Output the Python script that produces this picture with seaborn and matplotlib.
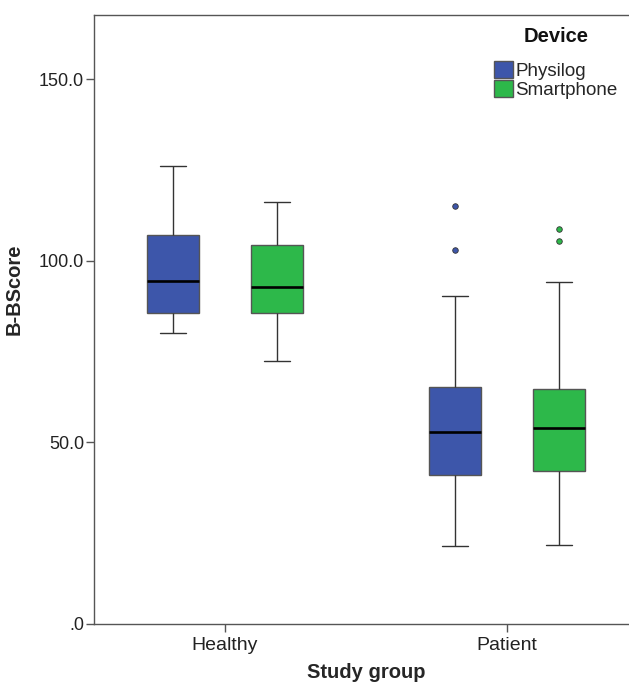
import numpy as np
import pandas as pd
import matplotlib
matplotlib.use("Agg")
import matplotlib.pyplot as plt
import seaborn as sns

# ---- data ----
groups = ["Healthy", "Patient"]
devices = ["Physilog", "Smartphone"]
box_group = ["Healthy", "Healthy", "Patient", "Patient"]
box_device = ["Physilog", "Smartphone", "Physilog", "Smartphone"]
lower_whisker = [80.0, 72.4, 21.6, 21.8]
q1 = [85.6, 85.6, 41.1, 42.1]
median = [94.4, 92.8, 52.8, 54.0]
q3 = [107.0, 104.5, 65.2, 64.8]
upper_whisker = [126.0, 116.2, 90.2, 94.1]
outliers = [[], [], [103.1, 115.1], [105.6, 108.8]]
y_ticks = [0, 50, 100, 150]
y_tick_labels = [".0", "50.0", "100.0", "150.0"]
colors = ["#3d56aa", "#2db84a"]

# build observations reproducing each box's summary exactly
rows = []
for g, d, lo, a, m, b, hi, out in zip(box_group, box_device, lower_whisker, q1,
                                      median, q3, upper_whisker, outliers):
    k = 2 + len(out) // 2
    vals = [lo] + [a] * k + [m] * 3 + [b] * k + [hi] + list(out)
    for v in vals:
        rows.append({"Study group": g, "Device": d, "B-BScore": v})
df = pd.DataFrame(rows)

sns.set_style("white")
plt.rcParams["font.family"] = ["Liberation Sans", "DejaVu Sans"]

W, H = 629, 682
fig = plt.figure(figsize=(W / 100, H / 100), dpi=100)
L, R, T, B = 94, 628, 15, 624
ax = fig.add_axes([L / W, 1 - B / H, (R - L) / W, (B - T) / H])

sns.boxplot(data=df, x="Study group", y="B-BScore", hue="Device",
            order=groups, hue_order=devices, palette=colors, saturation=1,
            width=0.736, gap=0.5, linewidth=1.0, linecolor="#555555",
            medianprops=dict(color="black", linewidth=1.9),
            whiskerprops=dict(color="#333333", linewidth=1.0),
            capprops=dict(color="#333333", linewidth=1.0),
            flierprops=dict(marker="o", markersize=4.0,
                            markeredgecolor="#333333", markeredgewidth=0.6),
            ax=ax)

for cont, col in zip(ax.containers, colors):
    try:
        for f in cont.fliers:
            f.set_markerfacecolor(col)
    except AttributeError:
        pass

ax.set_ylim(0, 167.7)
ax.set_xlim(-0.465, 1.43)
ax.set_yticks(y_ticks)
ax.set_yticklabels(y_tick_labels)

for s in ["left", "bottom", "top"]:
    ax.spines[s].set_visible(True)
    ax.spines[s].set_color("#555555")
    ax.spines[s].set_linewidth(1.0)
ax.spines["right"].set_visible(False)

ax.tick_params(axis="both", which="major", direction="out", length=6,
               width=1, color="#555555", labelcolor="#222222",
               left=True, bottom=True)
ax.tick_params(axis="y", pad=1.2, labelsize=13)
ax.tick_params(axis="x", pad=3, labelsize=14)

ax.set_xlabel("Study group", fontsize=14.5, fontweight="bold", va="center")
ax.xaxis.set_label_coords((366 - L) / (R - L), -(672 - B) / (B - T))
ax.set_ylabel("B-BScore", fontsize=14.5, fontweight="bold", va="center")
ax.yaxis.set_label_coords(-(L - 14) / (R - L), (B - 289) / (B - T))

handles, labels = ax.get_legend_handles_labels()
ax.legend(handles, labels, frameon=False, loc="upper left",
          bbox_to_anchor=(494 / W, 1 - 61 / H), bbox_transform=fig.transFigure,
          fontsize=13.5, handlelength=1.0, handleheight=1.0, labelspacing=0.0,
          handletextpad=0.15, borderaxespad=0, borderpad=0)
fig.text(556 / W, 1 - 37 / H, "Device", ha="center", va="center",
         fontsize=14.5, fontweight="bold", color="#111111")

fig.savefig("out.png", dpi=100)
